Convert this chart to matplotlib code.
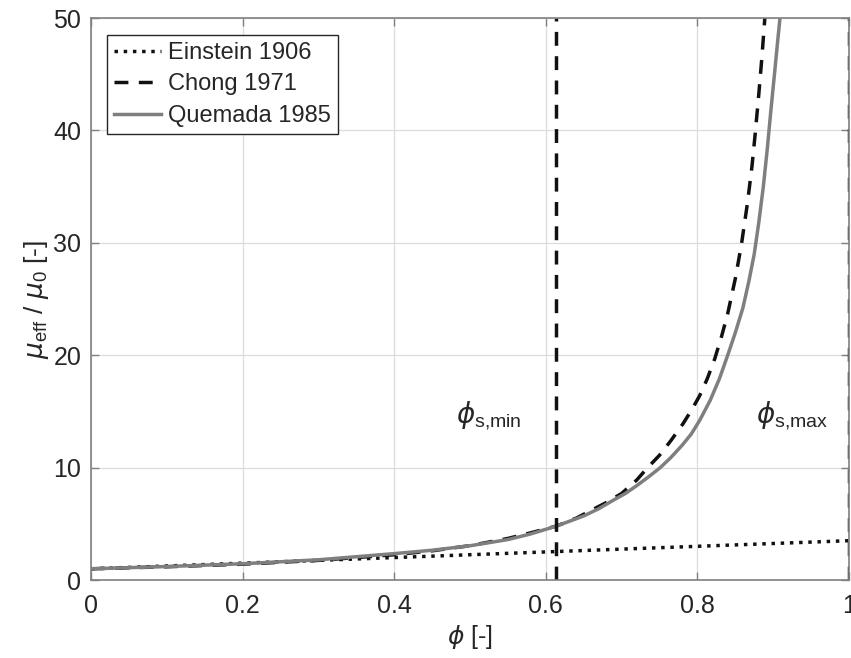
import numpy as np
import matplotlib
matplotlib.use('Agg')
import matplotlib.pyplot as plt

plt.rcParams['font.family'] = ['Liberation Sans', 'DejaVu Sans']
plt.rcParams['mathtext.fontset'] = 'custom'
plt.rcParams['mathtext.rm'] = 'Liberation Sans'
plt.rcParams['mathtext.it'] = 'DejaVu Sans:italic'

# values
einstein_phi = [0.0, 0.2, 0.4, 0.6, 0.8, 1.0]
einstein_mu = [1.0, 1.5, 2.0, 2.5, 3.0, 3.5]

chong_phi = [0.0, 0.1, 0.2, 0.3, 0.4, 0.45, 0.5, 0.55, 0.58, 0.614, 0.64, 0.66,
             0.68, 0.70, 0.72, 0.733, 0.75, 0.765, 0.781, 0.793, 0.803, 0.813,
             0.823, 0.832, 0.840, 0.850, 0.858, 0.866, 0.872, 0.876, 0.881,
             0.885, 0.889]
chong_mu = [1.0, 1.18, 1.41, 1.75, 2.25, 2.6, 3.06, 3.7, 4.2, 4.8, 5.5, 6.2,
            6.9, 7.7, 8.9, 9.9, 11.1, 12.4, 13.9, 15.2, 16.4, 17.9,
            19.7, 21.7, 23.7, 26.8, 29.8, 33.5, 36.8, 39.5, 43.2,
            46.4, 50.0]

quemada_phi = [0.0, 0.1, 0.2, 0.3, 0.4, 0.45, 0.5, 0.55, 0.58, 0.614, 0.65,
               0.67, 0.689, 0.705, 0.72, 0.735, 0.751, 0.765, 0.78, 0.792,
               0.803, 0.817, 0.829, 0.840, 0.850, 0.860, 0.868, 0.875, 0.881,
               0.887, 0.892, 0.897, 0.902, 0.906, 0.909]
quemada_mu = [1.0, 1.2, 1.45, 1.8, 2.35, 2.65, 3.05, 3.6, 4.1, 4.8, 5.7,
              6.35, 7.1, 7.7, 8.4, 9.15, 10.0, 10.9, 12.0, 13.0,
              14.2, 16.0, 17.9, 20.0, 22.0, 24.2, 26.6, 29.0, 31.8,
              35.0, 38.2, 41.8, 45.2, 48.0, 50.0]

phi_limits = [0.614, 1.0]
limit_labels = [r'$\phi_{\mathrm{s{,}min}}$', r'$\phi_{\mathrm{s{,}max}}$']
limit_label_x = [0.482, 0.878]

fig = plt.figure(figsize=(8.51, 6.58), dpi=100)
ax = fig.add_axes([0.107, 0.1185, 0.8906, 0.854])

ax.plot(einstein_phi, einstein_mu, ':', color='#111111', lw=2.5, label='Einstein 1906')
ax.plot(chong_phi, chong_mu, '--', color='#111111', lw=2.5, dashes=(4, 3), label='Chong 1971')
ax.plot(quemada_phi, quemada_mu, '-', color='#7f7f7f', lw=2.5, label='Quemada 1985')

for xv in phi_limits:
    ax.axvline(xv, color='#111111', lw=2.5, ls='--', dashes=(4, 3))

for lbl, xl in zip(limit_labels, limit_label_x):
    ax.text(xl, 13.2, lbl, fontsize=20, color='#262626', ha='left', va='bottom')

ax.set_xlim(0, 1)
ax.set_ylim(0, 50)
ax.set_xticks([0, 0.2, 0.4, 0.6, 0.8, 1.0])
ax.set_xticklabels(['0', '0.2', '0.4', '0.6', '0.8', '1'])
ax.set_yticks([0, 10, 20, 30, 40, 50])
ax.grid(True, color='#dcdcdc', lw=0.9)
ax.set_axisbelow(True)

for sp in ax.spines.values():
    sp.set_color('#808080')
    sp.set_linewidth(1.2)
ax.tick_params(direction='in', length=6, width=1.0, color='#808080',
               labelsize=18, labelcolor='#262626', top=True, right=True)
ax.tick_params(axis='x', pad=10)
ax.tick_params(axis='y', pad=7)

ax.set_xlabel(r'$\phi$ [-]', fontsize=18, color='#262626', labelpad=4)
ax.set_ylabel(r'$\mu_{\mathrm{eff}}$ / $\mu_0$ [-]', fontsize=19, color='#262626', labelpad=2)

leg = ax.legend(loc='upper left', bbox_to_anchor=(0.021, 0.970), borderaxespad=0,
                fontsize=17, handlelength=2.0, handletextpad=0.3, labelspacing=0.4,
                borderpad=0.3, fancybox=False, framealpha=1)
leg.get_frame().set_edgecolor('#262626')
leg.get_frame().set_linewidth(1.0)
for t in leg.get_texts():
    t.set_color('#262626')

fig.savefig('out.png', dpi=100)
